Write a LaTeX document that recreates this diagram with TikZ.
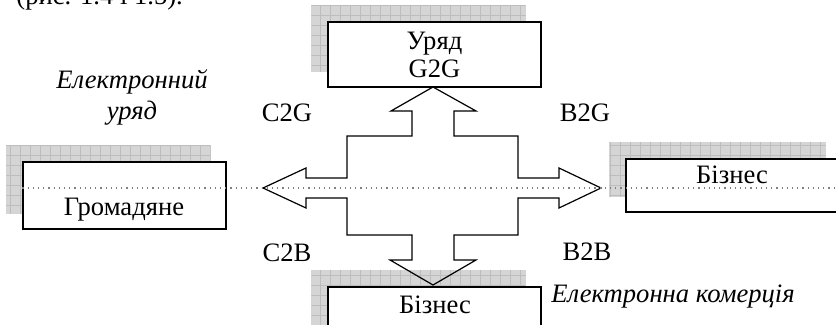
\documentclass[tikz,border=0pt]{standalone}
\usepackage{fontspec}
\setmainfont{Liberation Serif}
\usetikzlibrary{backgrounds}
\usetikzlibrary{patterns.meta}

\begin{document}
\begin{tikzpicture}[
            x=0.5pt, y=-0.5pt,
            font=\fontsize{13.3}{14}\selectfont,
            box/.style={
                draw, 
                fill=white, 
                line width=0.7pt,
                inner sep=0pt
            },
            shade/.style={
                fill=gray!33,
                postaction={pattern={Hatch[angle=0, distance=5pt, line width=0.45pt]}, pattern color=gray!52}
            },
            tag/.style={inner sep=0pt},
            axis/.style={dotted, gray, line width=0.6pt}
        ]
        \clip (0,0) rectangle (836,325);
        \node[tag, anchor=base west] (ref) at (16,5) {(рис. 1.4 і 1.5).};

        % boxes
        \node[box, align=center, minimum width=106.5pt, minimum height=32.5pt] (gov) at (434.5,54.5) {Уряд\\G2G};
        \node[box, minimum width=101.5pt, minimum height=33.5pt] (citizen) at (124.5,195.5) {};
        \node[box, minimum width=107.5pt, minimum height=26.5pt] (firm) at (733.5,185.5) {};
        \node[box, minimum width=106.5pt, minimum height=33pt] (trade) at (434.5,320) {};
        \node[tag] (citizenname) at (124,210) {Громадяне};
        \node[tag] (firmname) at (732,175) {Бізнес};
        \node[tag] (tradename) at (435,305) {Бізнес};

        % shadows
        \begin{scope}[on background layer]
            \foreach \b in {gov, citizen, firm, trade} {
                \fill[shade] ([shift={(-8pt,8pt)}]\b.south west) rectangle ([shift={(-8pt,8pt)}]\b.north east);
            }
        \end{scope}

        % labels
        \node[tag] (c2g) at (287,113) {C2G};
        \node[tag] (b2g) at (585,113) {B2G};
        \node[tag] (c2b) at (287,253) {C2B};
        \node[tag] (b2b) at (587,252) {B2B};
        \node[tag, align=center, font=\fontsize{13.3}{15.5}\selectfont\itshape] (egov) at (132,97) {Електронний\\уряд};
        \node[tag, font=\fontsize{13.3}{14}\selectfont\itshape] (ecom) at (673,297) {Електронна комерція};

        % cross of block arrows
        \coordinate (mid) at (432.5,188);
        \draw[line width=0.6pt] (347,136) -- (412,136) -- (412,111) -- (391,111) -- (433,87)
            -- (476,111) -- (454,111) -- (454,136) -- (518,136) -- (518,178) -- (559,178)
            -- (559,168) -- (601,188) -- (559,208) -- (559,198) -- (518,198) -- (518,235)
            -- (454,235) -- (454,260) -- (476,260) -- (433,285) -- (390,260) -- (412,260)
            -- (412,235) -- (347,235) -- (347,198) -- (306,198) -- (306,208) -- (263,188)
            -- (306,168) -- (306,178) -- (347,178) -- cycle;

        \draw[axis] (citizen.west |- mid) -- (firm.east |- mid);
        \end{tikzpicture}
\end{document}
